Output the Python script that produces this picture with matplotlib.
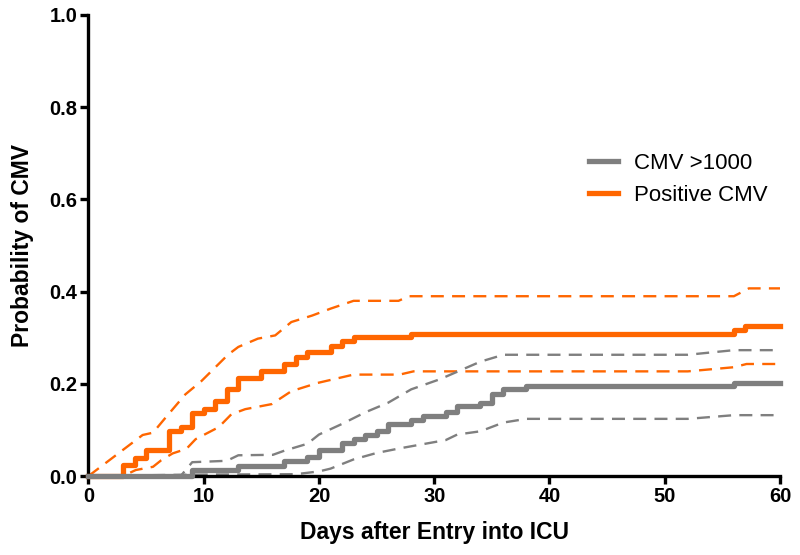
import matplotlib.pyplot as plt

plt.rcParams['font.family'] = ['Liberation Sans', 'DejaVu Sans']

# Kaplan-Meier style step curves (day, probability)
pos_days = [0, 3, 4, 5, 7, 8, 9, 10, 11, 12, 13, 15, 17, 18, 19, 21, 22, 23, 28, 56, 57, 60]
pos_prob = [0, 0.024, 0.039, 0.056, 0.097, 0.106, 0.136, 0.146, 0.163, 0.188, 0.213, 0.227,
            0.243, 0.259, 0.268, 0.283, 0.293, 0.301, 0.308, 0.317, 0.325, 0.325]

cmv_days = [0, 9, 13, 17, 19, 20, 22, 23, 24, 25, 26, 28, 29, 31, 32, 34, 35, 36, 38, 56, 60]
cmv_prob = [0, 0.012, 0.022, 0.033, 0.041, 0.056, 0.071, 0.081, 0.088, 0.098, 0.113, 0.122,
            0.131, 0.138, 0.152, 0.159, 0.177, 0.188, 0.195, 0.201, 0.201]

# confidence bands (dashed)
pos_up_days = [0, 4.7, 5.6, 6.7, 8.4, 9.8, 12.1, 13, 14.7, 16.2, 17.6, 19.4, 21, 23, 26.9, 27.8, 56, 57.3, 60]
pos_up_prob = [0, 0.089, 0.094, 0.127, 0.177, 0.206, 0.263, 0.28, 0.298, 0.305, 0.334, 0.348,
               0.363, 0.38, 0.38, 0.39, 0.39, 0.407, 0.407]
pos_lo_days = [0, 3, 4.1, 5.6, 6.3, 7.3, 8.5, 9.3, 11.3, 12.4, 13.6, 15.9, 17.6, 19.9, 23, 27, 28.2, 52, 56, 57.1, 60]
pos_lo_prob = [0, 0, 0.013, 0.02, 0.034, 0.049, 0.059, 0.08, 0.106, 0.134, 0.145, 0.156, 0.184,
               0.202, 0.22, 0.22, 0.227, 0.227, 0.236, 0.243, 0.243]

cmv_up_days = [0, 8, 9, 12, 13, 16, 17, 19, 20, 22, 24, 26, 28, 30.5, 34, 36, 52, 56, 60]
cmv_up_prob = [0, 0, 0.03, 0.033, 0.045, 0.046, 0.055, 0.07, 0.09, 0.113, 0.138, 0.159, 0.188,
               0.21, 0.248, 0.263, 0.263, 0.273, 0.273]
cmv_lo_days = [0, 9, 18, 20, 21, 23, 25, 27, 31, 32, 34, 36, 38, 52, 56, 60]
cmv_lo_prob = [0, 0.003, 0.004, 0.01, 0.016, 0.036, 0.05, 0.06, 0.078, 0.09, 0.097, 0.116,
               0.124, 0.124, 0.132, 0.132]

orange = '#FF6600'
gray = '#7F7F7F'

fig = plt.figure(figsize=(8, 5.55), dpi=100)
ax = fig.add_axes([0.1106, 0.1423, 0.8644, 0.8307])

dash = (0, (5.5, 3.5))
ax.plot(pos_up_days, pos_up_prob, color=orange, lw=1.7, ls=dash, clip_on=False)
ax.plot(pos_lo_days, pos_lo_prob, color=orange, lw=1.7, ls=dash, clip_on=False)
ax.plot(cmv_up_days, cmv_up_prob, color=gray, lw=1.7, ls=dash, clip_on=False)
ax.plot(cmv_lo_days, cmv_lo_prob, color=gray, lw=1.7, ls=dash, clip_on=False)

ax.step(pos_days, pos_prob, where='post', color=orange, lw=3.8, clip_on=False, zorder=4)
ax.step(cmv_days, cmv_prob, where='post', color=gray, lw=3.8, clip_on=False, zorder=5,
        label='CMV >1000')
# legend handle ordering
ax.plot([], [], color=orange, lw=3.8, label='Positive CMV')

ax.set_xlim(0, 60)
ax.set_ylim(0, 1.0)
ax.set_xticks(range(0, 61, 10))
ax.set_yticks([0.0, 0.2, 0.4, 0.6, 0.8, 1.0])
ax.set_yticklabels(['0.0', '0.2', '0.4', '0.6', '0.8', '1.0'])

for side in ['top', 'right']:
    ax.spines[side].set_visible(False)
for side in ['left', 'bottom']:
    ax.spines[side].set_linewidth(2.4)
ax.tick_params(width=2.4, length=6, labelsize=14.5, pad=2)
for lab in ax.get_xticklabels() + ax.get_yticklabels():
    lab.set_fontweight('bold')

ax.set_xlabel('Days after Entry into ICU', fontsize=16.5, fontweight='bold', labelpad=11)
ax.set_ylabel('Probability of CMV', fontsize=16.5, fontweight='bold', labelpad=11)

ax.legend(loc='upper left', bbox_to_anchor=(0.695, 0.745), frameon=False, fontsize=16,
          handlelength=1.3, handletextpad=0.7, labelspacing=0.5)

fig.savefig('out.png', dpi=100)
